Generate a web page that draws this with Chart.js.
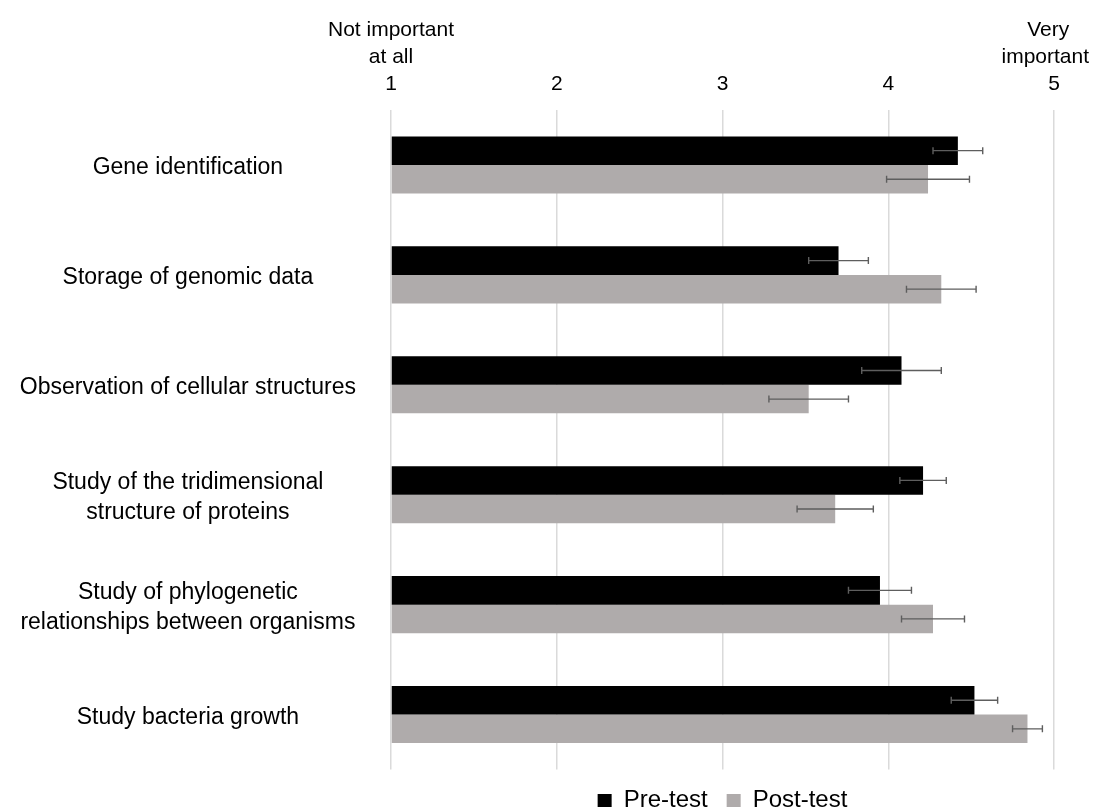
<!DOCTYPE html>
<html>
<head>
<meta charset="utf-8">
<title>Importance of bioinformatics applications: pre-test vs post-test</title>
<script src="https://cdn.jsdelivr.net/npm/chart.js@4/dist/chart.umd.min.js"></script>
<style>
  html, body { margin: 0; padding: 0; background: #ffffff; }
  #wrap { width: 1094px; height: 811px; }
</style>
</head>
<body>
<div id="wrap"><canvas id="chart" width="1094" height="811"></canvas></div>
<script>
// Survey items (multi-line entries are wrapped labels)
const categories = [
  "Gene identification",
  "Storage of genomic data",
  "Observation of cellular structures",
  ["Study of the tridimensional", "structure of proteins"],
  ["Study of phylogenetic", "relationships between organisms"],
  "Study bacteria growth"
];

// Mean importance scores (1-5 scale) and their error margins
const preTest  = [4.42, 3.70, 4.08, 4.21, 3.95, 4.52];
const preErr   = [0.15, 0.18, 0.24, 0.14, 0.19, 0.14];
const postTest = [4.24, 4.32, 3.52, 3.68, 4.27, 4.84];
const postErr  = [0.25, 0.21, 0.24, 0.23, 0.19, 0.09];

// Scale tick labels, with the anchor wording over the two ends
const tickLabels = {
  1: ["Not important", "at all", "1"],
  2: "2",
  3: "3",
  4: "4",
  5: ["Very  ", "important   ", "5"]
};

const FONT = "'Liberation Sans', Arial, Helvetica, sans-serif";

// Draws horizontal error bars with end caps on every bar
const errorBars = {
  id: "errorBars",
  afterDatasetsDraw(chart) {
    const ctx = chart.ctx;
    const xs = chart.scales.x;
    ctx.save();
    ctx.strokeStyle = "#5e5e5e";
    ctx.lineWidth = 1.4;
    chart.data.datasets.forEach((ds, i) => {
      const meta = chart.getDatasetMeta(i);
      if (meta.hidden) return;
      meta.data.forEach((bar, j) => {
        const v = ds.data[j];
        const e = ds.errors[j];
        const x1 = xs.getPixelForValue(v - e);
        const x2 = xs.getPixelForValue(v + e);
        const y = bar.y;
        const cap = 3.5;
        ctx.beginPath();
        ctx.moveTo(x1, y); ctx.lineTo(x2, y);
        ctx.moveTo(x1, y - cap); ctx.lineTo(x1, y + cap);
        ctx.moveTo(x2, y - cap); ctx.lineTo(x2, y + cap);
        ctx.stroke();
      });
    });
    ctx.restore();
  }
};

new Chart(document.getElementById("chart"), {
  type: "bar",
  data: {
    labels: categories,
    datasets: [
      {
        label: "Pre-test",
        data: preTest,
        errors: preErr,
        base: 1,
        backgroundColor: "#000000",
        categoryPercentage: 0.52,
        barPercentage: 1.0
      },
      {
        label: "Post-test",
        data: postTest,
        errors: postErr,
        base: 1,
        backgroundColor: "#afabab",
        categoryPercentage: 0.52,
        barPercentage: 1.0
      }
    ]
  },
  options: {
    indexAxis: "y",
    responsive: false,
    animation: false,
    layout: { padding: { left: 0, right: 40, top: 0, bottom: -11.5 } },
    scales: {
      x: {
        position: "top",
        min: 1,
        max: 5,
        ticks: {
          stepSize: 1,
          color: "#000000",
          padding: 12,
          font: { family: FONT, size: 21, lineHeight: 1.29 },
          callback: (value) => tickLabels[value] !== undefined ? tickLabels[value] : ""
        },
        grid: { color: "#dadada", lineWidth: 1.5, drawTicks: false },
        border: { display: false },
        afterFit(scale) {
          scale.height = 110;
          scale.paddingLeft = 0;
          scale.paddingRight = 0;
        }
      },
      y: {
        ticks: {
          color: "#000000",
          crossAlign: "center",
          padding: 35,
          labelOffset: 3,
          font: { family: FONT, size: 23, lineHeight: 1.28 }
        },
        grid: { display: false, drawTicks: false },
        border: { display: false },
        afterFit(scale) {
          scale.width = 391;
          scale.paddingTop = 0;
          scale.paddingBottom = 0;
        }
      }
    },
    plugins: {
      legend: {
        position: "bottom",
        fullSize: false,
        labels: {
          color: "#000000",
          boxWidth: 14,
          boxHeight: 13,
          padding: 19,
          font: { family: FONT, size: 24 }
        }
      },
      tooltip: { enabled: false }
    }
  },
  plugins: [errorBars]
});
</script>
</body>
</html>
